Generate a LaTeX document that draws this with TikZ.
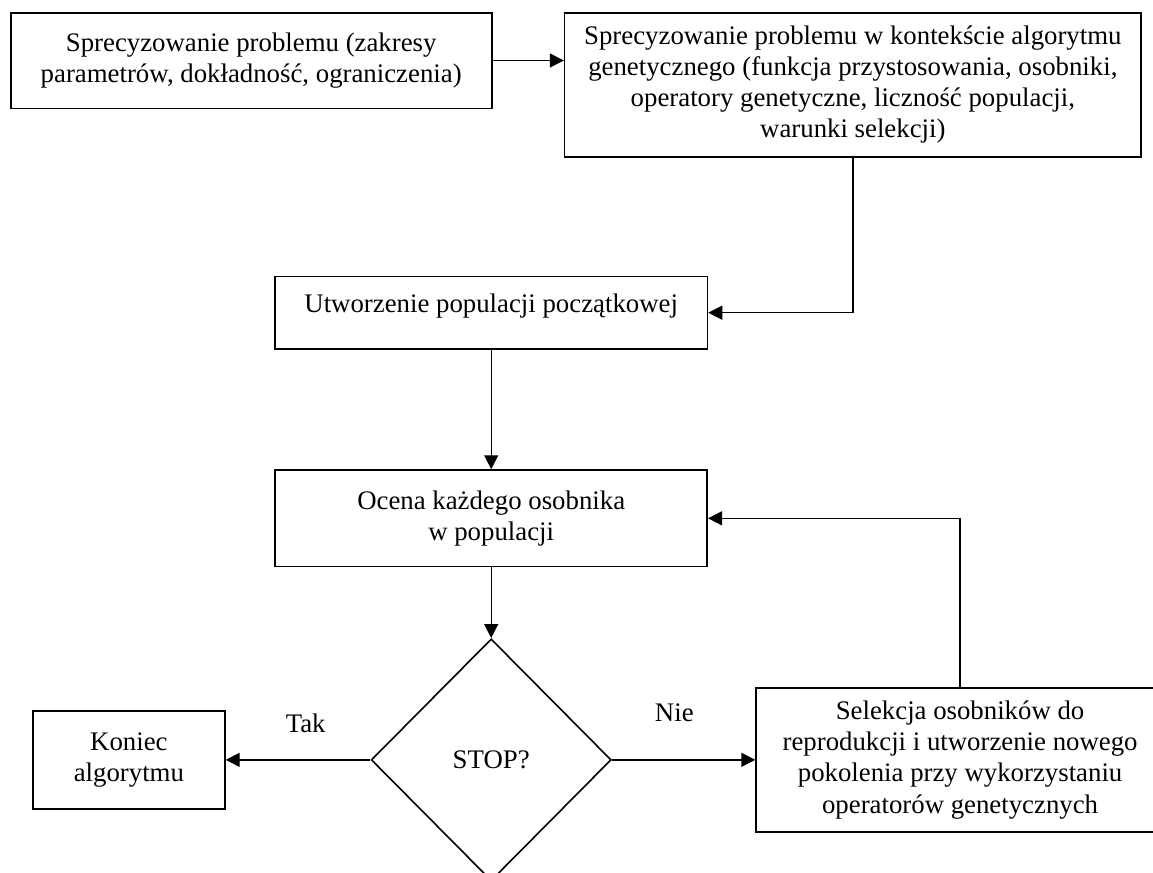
\documentclass[tikz,border=0pt]{standalone}
\usepackage{fontspec}
\setmainfont{Liberation Serif}
\usepackage{tikz}
\usetikzlibrary{arrows.meta,positioning,shapes.geometric}

\begin{document}
\begin{tikzpicture}[x=0.5pt,y=-0.5pt,font=\fontsize{13.4}{15.6}\selectfont,
  blok/.style={draw,line width=0.8pt,align=center,inner sep=0pt},
  romb/.style={draw,diamond,line width=0.8pt,inner sep=0pt,minimum width=120pt,minimum height=121pt},
  strzalka/.style={-{Triangle[length=7pt,width=7pt]},line width=0.7pt}]
\useasboundingbox (0,0) rectangle (1153,873);
\node[blok,minimum width=240.5pt,minimum height=47.8pt] (zadanie) at (251.2,60.5)
  {Sprecyzowanie problemu (zakresy\\parametrów, dokładność, ograniczenia)};
\node[blok,below right=0pt and 35.65pt of zadanie.north east,
      minimum width=288.25pt,minimum height=72pt]
  (kontekst) {Sprecyzowanie problemu w kontekście algorytmu\\genetycznego (funkcja przystosowania, osobniki,\\operatory genetyczne, liczność populacji,\\warunki selekcji)};
\node[blok,minimum width=216.25pt,minimum height=36.25pt,text depth=10pt] (populacja)
  at (491.2,312.7) {Utworzenie populacji początkowej};
\node[blok,below=59.75pt of populacja,minimum width=216pt,minimum height=48.25pt]
  (ocena) {Ocena każdego osobnika\\w populacji};
\node[romb,below=35.35pt of ocena] (stop) {STOP?};
\node[blok,left=72.35pt of stop,minimum width=96pt,minimum height=49pt]
  (koniec) {Koniec\\algorytmu};
\node[blok,right=71.65pt of stop,minimum width=204pt,minimum height=72pt]
  (selekcja) {Selekcja osobników do\\reprodukcji i utworzenie nowego\\pokolenia przy wykorzystaniu\\operatorów genetycznych};
\draw[strzalka] (zadanie.east) -- (zadanie.east -| kontekst.west);
\draw[strzalka] (kontekst.south) |- (populacja.east);
\draw[strzalka] (populacja) -- (ocena);
\draw[strzalka] (ocena) -- (stop);
\draw[strzalka] (stop) -- (koniec) node[pos=0.447,above=10pt]{Tak};
\draw[strzalka] (stop) -- (selekcja) node[pos=0.435,above=15.5pt]{Nie};
\draw[strzalka] (selekcja.north) |- (ocena.east);
\end{tikzpicture}
\end{document}
